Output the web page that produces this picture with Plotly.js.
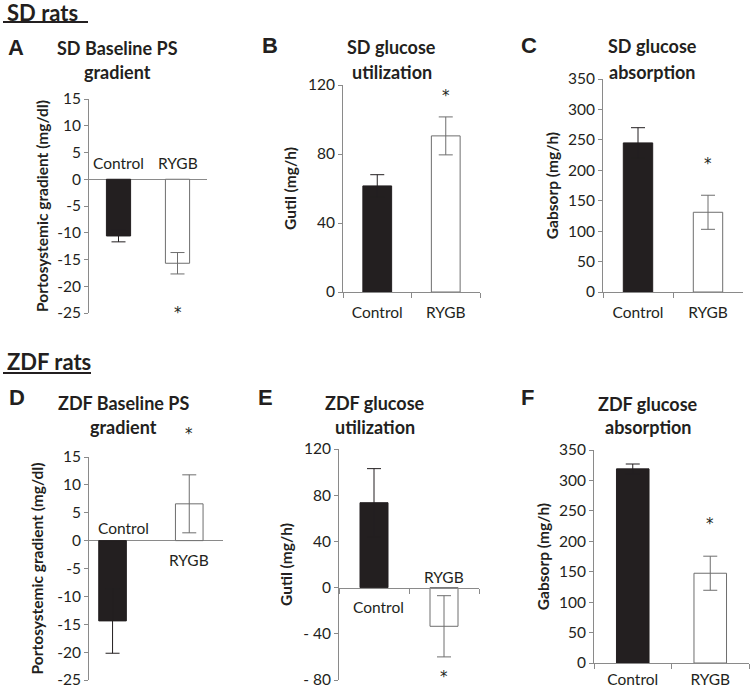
<!DOCTYPE html>
<html>
<head>
<meta charset="utf-8">
<script src="https://cdn.plot.ly/plotly-3.0.1.min.js"></script>
<style>html,body{margin:0;padding:0;background:#fff;}#chart{width:750px;height:689px;}</style>
</head>
<body>
<div id="chart"></div>
<script>
// ---------------- data ----------------
const categories = ['Control', 'RYGB'];

const sdPSValues = [-10.6, -15.7];
const sdPSErrors = [1.1, 2.0];
const sdGutilValues = [61.5, 90.5];
const sdGutilErrors = [6.5, 11];
const sdGabsValues = [245, 131];
const sdGabsErrors = [25, 28];

const zdfPSValues = [-14.4, 6.6];
const zdfPSErrors = [5.8, 5.2];
const zdfGutilValues = [73.5, -33.5];
const zdfGutilErrors = [29.5, 26.5];
const zdfGabsValues = [319, 147.5];
const zdfGabsErrors = [8, 28];

// y position (data units) of the significance asterisk for the RYGB bar
const starValues = [-25.0, 113.7, 210.2, 19.2, -77.7, 228.3];

const psTicks = [-25, -20, -15, -10, -5, 0, 5, 10, 15];
const psTickText = ['-25', '-20', '-15', '-10', '-5', '0', '5', '10', '15'];
const gutilSDTicks = [0, 40, 80, 120];
const gutilSDTickText = ['0', '40', '80', '120'];
const gutilZDFTicks = [-80, -40, 0, 40, 80, 120];
const gutilZDFTickText = ['- 80', '- 40', '0', '40', '80', '120'];
const gabsTicks = [0, 50, 100, 150, 200, 250, 300, 350];
const gabsTickText = ['0', '50', '100', '150', '200', '250', '300', '350'];

const panelTitles = [
  ['SD Baseline PS', 'gradient'],
  ['SD glucose', 'utilization'],
  ['SD glucose', 'absorption'],
  ['ZDF Baseline PS', 'gradient'],
  ['ZDF glucose', 'utilization'],
  ['ZDF glucose', 'absorption']
];
const panelLetters = ['A', 'B', 'C', 'D', 'E', 'F'];
const yTitles = ['Portosystemic gradient (mg/dl)', 'Gutil (mg/h)', 'Gabsorp (mg/h)',
                 'Portosystemic gradient (mg/dl)', 'Gutil (mg/h)', 'Gabsorp (mg/h)'];
const groupHeaders = ['SD rats', 'ZDF rats'];

// ---------------- styling / layout ----------------
const W = 750, H = 689;
const FONT = 'Lato, "Open Sans", sans-serif';
const STARFONT = '"DejaVu Sans", sans-serif';
const TXT = '#231f20';
const AX = '#8a8a8a';
const DARK = '#231f20';
const OUTL = '#6e6e6e';
const FS = 15.5;

const px = x => x / W;
const py = y => 1 - y / H;

// panel geometry in pixels: [left, right, top, bottom]
const panels = [
  {box: [89, 207, 99, 313], yr: [-25, 15], xr: [-0.5, 1.5], ticks: psTicks, tt: psTickText, vals: sdPSValues, errs: sdPSErrors, mode: 'zero', standoff: 4, bw: 0.41, lstand: 6},
  {box: [343, 480, 85, 292], yr: [0, 120], xr: [-0.5, 1.5], ticks: gutilSDTicks, tt: gutilSDTickText, vals: sdGutilValues, errs: sdGutilErrors, mode: 'bottom', standoff: 7, bw: 0.42, lstand: 6},
  {box: [603, 743, 79, 292], yr: [0, 350], xr: [-0.5, 1.5], ticks: gabsTicks, tt: gabsTickText, vals: sdGabsValues, errs: sdGabsErrors, mode: 'bottom', standoff: 5, bw: 0.42, lstand: 6},
  {box: [89, 223, 457, 680], yr: [-25, 15], xr: [-0.307, 1.44], ticks: psTicks, tt: psTickText, vals: zdfPSValues, errs: zdfPSErrors, mode: 'zero', standoff: 9, bw: 0.36, lstand: 6},
  {box: [339, 479, 449, 680], yr: [-80, 120], xr: [-0.5, 1.5], ticks: gutilZDFTicks, tt: gutilZDFTickText, vals: zdfGutilValues, errs: zdfGutilErrors, mode: 'free', standoff: 6, bw: 0.4, lstand: 6},
  {box: [594, 749, 450, 663], yr: [0, 350], xr: [-0.5, 1.5], ticks: gabsTicks, tt: gabsTickText, vals: zdfGabsValues, errs: zdfGabsErrors, mode: 'bottom', standoff: 5, bw: 0.42, lstand: 2}
];

// text placements (pixels)
const titlePos = [[117, 48, 72], [392, 47, 72], [652, 46, 72], [123, 403, 427], [375, 403, 427], [648, 404, 427]];
const letterPos = [[16, 47], [270, 46], [529, 46], [17, 397], [265, 397], [527, 397]];

const data = [];
const layout = {
  width: W, height: H,
  margin: {l: 0, r: 0, t: 0, b: 0},
  paper_bgcolor: '#fff', plot_bgcolor: 'rgba(0,0,0,0)',
  showlegend: false,
  font: {family: FONT, color: TXT, size: FS},
  annotations: [],
  shapes: []
};

panels.forEach((p, i) => {
  const n = i + 1;
  const xa = 'xaxis' + (n === 1 ? '' : n);
  const ya = 'yaxis' + (n === 1 ? '' : n);
  const xr = 'x' + (n === 1 ? '' : n);
  const yr = 'y' + (n === 1 ? '' : n);
  const [l, r, t, b] = p.box;

  layout[ya] = {
    domain: [py(b), py(t)], anchor: xr, range: p.yr,
    showline: true, linecolor: AX, linewidth: 1,
    ticks: 'outside', ticklen: 4, tickcolor: AX, tickwidth: 1,
    tickvals: p.ticks, ticktext: p.tt,
    tickfont: {family: FONT, size: FS, color: TXT},
    showgrid: false,
    zeroline: p.mode === 'zero', zerolinecolor: AX, zerolinewidth: 1,
    fixedrange: true,
    title: {text: yTitles[i], standoff: p.standoff, font: {family: FONT, size: FS, color: TXT, weight: 'bold'}}
  };

  const xbase = {
    domain: [px(l), px(r)], range: p.xr, type: 'category',
    showgrid: false, zeroline: false, fixedrange: true
  };
  if (p.mode === 'bottom') {
    Object.assign(xbase, {
      anchor: yr, showline: true, linecolor: AX, linewidth: 1,
      ticks: 'outside', tickson: 'boundaries', ticklen: 5, tickcolor: AX,
      tickfont: {family: FONT, size: FS, color: TXT}, ticklabelstandoff: p.lstand
    });
  } else if (p.mode === 'free') {
    const d = layout[ya].domain;
    const pos = d[0] + (0 - p.yr[0]) / (p.yr[1] - p.yr[0]) * (d[1] - d[0]);
    Object.assign(xbase, {
      anchor: 'free', position: pos, showline: true, linecolor: AX, linewidth: 1,
      ticks: 'outside', tickson: 'boundaries', ticklen: 5, tickcolor: AX,
      showticklabels: false
    });
  } else {
    Object.assign(xbase, {anchor: yr, showline: false, ticks: '', showticklabels: false});
  }
  layout[xa] = xbase;

  // bars
  data.push({
    type: 'bar', x: [categories[0]], y: [p.vals[0]], width: [p.bw],
    xaxis: xr, yaxis: yr,
    marker: {color: DARK, line: {color: DARK, width: 1}},
    error_y: {type: 'data', array: [p.errs[0]], visible: true, color: DARK, thickness: 1, width: 7},
    hoverinfo: 'skip'
  });
  data.push({
    type: 'bar', x: [categories[1]], y: [p.vals[1]], width: [p.bw],
    xaxis: xr, yaxis: yr,
    marker: {color: '#ffffff', line: {color: OUTL, width: 1}},
    error_y: {type: 'data', array: [p.errs[1]], visible: true, color: OUTL, thickness: 1, width: 7},
    hoverinfo: 'skip'
  });

  // significance asterisk (placed relative to the y-axis domain so it may sit outside the range)
  layout.annotations.push({
    xref: xr, yref: yr + ' domain', x: categories[1],
    y: (starValues[i] - p.yr[0]) / (p.yr[1] - p.yr[0]),
    text: '*', showarrow: false, xanchor: 'center', yanchor: 'middle',
    font: {family: STARFONT, size: 15, color: TXT}
  });

  // titles
  const tp = titlePos[i];
  layout.annotations.push({xref: 'paper', yref: 'paper', x: px(tp[0]), y: py(tp[1]), text: '<b>' + panelTitles[i][0] + '</b>',
    showarrow: false, xanchor: 'center', yanchor: 'middle', font: {family: FONT, size: 18, color: TXT}});
  layout.annotations.push({xref: 'paper', yref: 'paper', x: px(tp[0]), y: py(tp[2]), text: '<b>' + panelTitles[i][1] + '</b>',
    showarrow: false, xanchor: 'center', yanchor: 'middle', font: {family: FONT, size: 18, color: TXT}});

  // panel letter
  const lp = letterPos[i];
  layout.annotations.push({xref: 'paper', yref: 'paper', x: px(lp[0]), y: py(lp[1]), text: '<b>' + panelLetters[i] + '</b>',
    showarrow: false, xanchor: 'center', yanchor: 'middle', font: {family: '"Liberation Sans", Arial, sans-serif', size: 22, color: TXT}});
});

// category labels placed inside panels A, D, E (data coordinates)
const inlineLabels = [
  {ax: '', x: 0, y: 3.0, text: categories[0]},
  {ax: '', x: 1, y: 3.0, text: categories[1]},
  {ax: '4', x: 0.14, y: 2.3, text: categories[0]},
  {ax: '4', x: 1, y: -3.5, text: categories[1]},
  {ax: '5', x: 0.07, y: -16.7, text: categories[0]},
  {ax: '5', x: 1, y: 9.3, text: categories[1]}
];
inlineLabels.forEach(a => {
  layout.annotations.push({xref: 'x' + a.ax, yref: 'y' + a.ax, x: a.x, y: a.y, text: a.text, showarrow: false,
    xanchor: 'center', yanchor: 'middle', font: {family: FONT, size: FS, color: TXT}});
});

// group headers with underline
const headerPos = [[5, 12, 22, 88], [5, 361, 373, 91]];
groupHeaders.forEach((h, i) => {
  const hp = headerPos[i];
  layout.annotations.push({xref: 'paper', yref: 'paper', x: px(hp[0]), y: py(hp[1]), text: '<b>' + h + '</b>',
    showarrow: false, xanchor: 'left', yanchor: 'middle', font: {family: FONT, size: 22, color: TXT}});
  layout.shapes.push({type: 'line', xref: 'paper', yref: 'paper', x0: px(3), x1: px(hp[3]), y0: py(hp[2]), y1: py(hp[2]),
    line: {color: TXT, width: 2}});
});

Plotly.newPlot('chart', data, layout, {staticPlot: true, displayModeBar: false});
</script>
</body>
</html>
